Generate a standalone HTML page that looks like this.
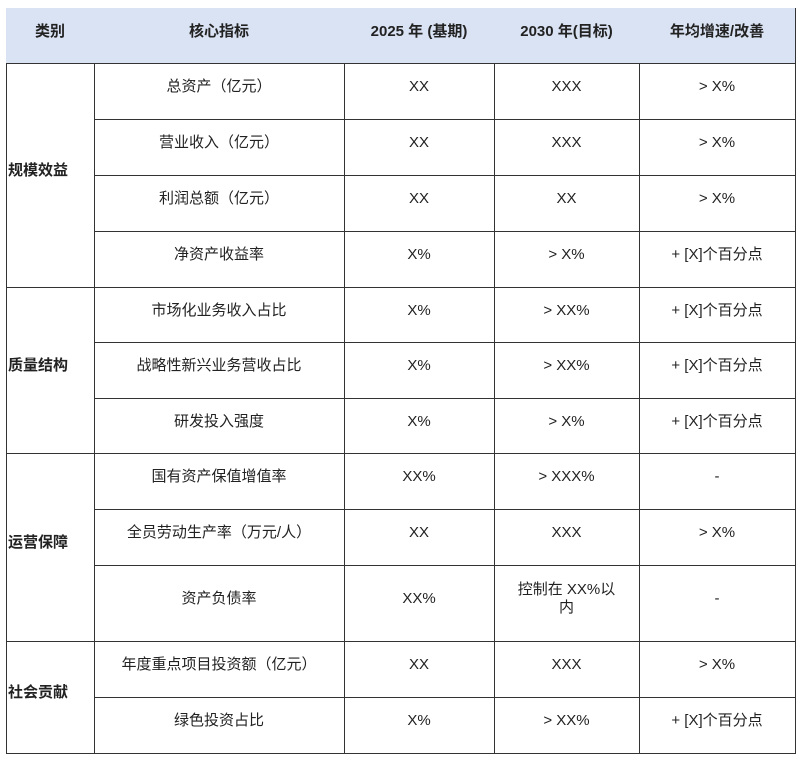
<!DOCTYPE html>
<html><head><meta charset="utf-8"><style>
body{margin:0;background:#fff;width:800px;height:760px;position:relative;overflow:hidden;font-family:"Liberation Sans","Noto Sans CJK SC",sans-serif;color:#222}
.c{position:absolute;box-sizing:border-box;display:flex;align-items:center;justify-content:center;text-align:center;font-size:15px;line-height:18px;border-right:1.5px solid #333;border-bottom:1.5px solid #333;padding-bottom:8px}
.h{background:#dae3f3;font-weight:bold}
.cat{justify-content:flex-start;font-weight:bold;padding-left:2px}
</style></head><body>
<div style="position:absolute;left:6px;top:8px;width:789px;height:745px;border-left:1.5px solid #333;border-top:1.5px solid #333;box-sizing:border-box"></div>
<div id="t"></div>
<script>
var xs=[6,94,344,494,639,795];
var ys=[8,63,119,175,231,287,342,398,453,509,565,641,697,753];
var rows=[
["总资产（亿元）","XX","XXX","> X%"],
["营业收入（亿元）","XX","XXX","> X%"],
["利润总额（亿元）","XX","XX","> X%"],
["净资产收益率","X%","> X%","+ [X]个百分点"],
["市场化业务收入占比","X%","> XX%","+ [X]个百分点"],
["战略性新兴业务营收占比","X%","> XX%","+ [X]个百分点"],
["研发投入强度","X%","> X%","+ [X]个百分点"],
["国有资产保值增值率","XX%","> XXX%","-"],
["全员劳动生产率（万元/人）","XX","XXX","> X%"],
["资产负债率","XX%","控制在 XX%以<br>内","-"],
["年度重点项目投资额（亿元）","XX","XXX","> X%"],
["绿色投资占比","X%","> XX%","+ [X]个百分点"]];
var h="";
function cell(x0,x1,y0,y1,t,cls){h+='<div class="c '+(cls||'')+'" style="left:'+x0+'px;top:'+y0+'px;width:'+(x1-x0+1)+'px;height:'+(y1-y0+1)+'px">'+t+'</div>';}
var hd=["类别","核心指标","2025 年 (基期)","2030 年(目标)","年均增速/改善"];
for(var i=0;i<5;i++)cell(xs[i],xs[i+1],ys[0],ys[1],hd[i],"h");
var cats=[["规模效益",1,5],["质量结构",5,8],["运营保障",8,11],["社会贡献",11,13]];
cats.forEach(function(c){cell(xs[0],xs[1],ys[c[1]],ys[c[2]],c[0],"cat");});
rows.forEach(function(r,j){for(var k=0;k<4;k++)cell(xs[k+1],xs[k+2],ys[j+1],ys[j+2],r[k]);});
document.getElementById("t").innerHTML=h;
</script>
</body></html>
